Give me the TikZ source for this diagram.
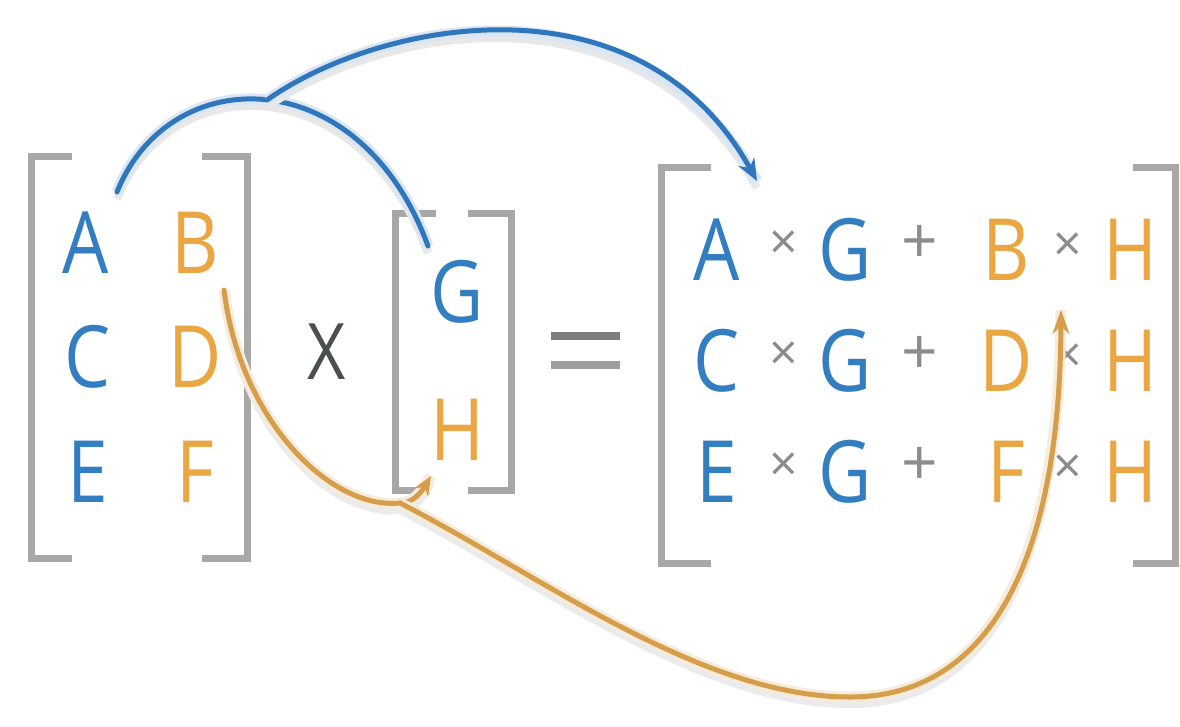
\documentclass[tikz,border=0pt]{standalone}
\usepackage{fontspec}
\setmainfont{Open Sans}
\usetikzlibrary{arrows.meta}
\definecolor{lblue}{RGB}{50,126,192}
\definecolor{lorange}{RGB}{234,166,66}
\definecolor{brkgray}{RGB}{168,168,168}
\definecolor{opgray}{RGB}{140,140,140}
\definecolor{xgray}{RGB}{74,80,80}
\definecolor{arcblue}{RGB}{48,118,188}
\definecolor{arcorange}{RGB}{214,158,74}
\newcommand\nx[1]{\scalebox{0.85}[1]{#1}}
\tikzset{
  brk/.style={draw=brkgray, line width=7pt, line cap=butt, line join=miter},
  bl/.style={text=lblue, inner sep=0pt, font=\fontsize{86}{90}\selectfont},
  orl/.style={text=lorange, inner sep=0pt, font=\fontsize{86}{90}\selectfont},
  smalltimes/.style={text=opgray, inner sep=0pt, font=\fontsize{50}{50}\selectfont},
  plussign/.style={text=opgray, inner sep=0pt, font=\fontsize{64}{64}\selectfont},
  blarc/.style={draw=arcblue, line width=5pt, line cap=round,
    preaction={draw=black!9, line width=8pt, arrows=-, transform canvas={yshift=-7pt}},
    preaction={draw=arcblue!18, line width=11pt, arrows=-}},
  orarc/.style={draw=arcorange, line width=5pt, line cap=round,
    preaction={draw=black!8, line width=8pt, arrows=-, transform canvas={yshift=-7pt}},
    preaction={draw=arcorange!20, line width=11pt, arrows=-}},
}
\begin{document}
\begin{tikzpicture}[x=1pt,y=-1pt]
\useasboundingbox (0,0) rectangle (1180,726);
\fill[white] (0,0) rectangle (1180,726);

% left matrix brackets
\draw[brk] (72,156) -- (31,156) -- (31,558) -- (72,558);
\draw[brk] (202,156) -- (247,156) -- (247,558) -- (202,558);
% left matrix entries
\node[bl]  (A) at (86,243)  {\nx{A}};
\node[orl] (B) at (195,243) {\nx{B}};
\node[bl]  (C) at (88,357)  {\nx{C}};
\node[orl] (D) at (195,357) {\nx{D}};
\node[bl]  (E) at (88,472)  {\nx{E}};
\node[orl] (F) at (195,472) {\nx{F}};

% multiplication sign
\node[text=xgray, inner sep=0pt, font=\fontsize{78}{80}\selectfont] (times) at (327,352) {\nx{X}};

% second matrix
\draw[brk] (436,213) -- (395,213) -- (395,490) -- (430,490);
\draw[brk] (468,213) -- (511,213) -- (511,490) -- (468,490);
\node[bl]  (G) at (457,292) {\nx{G}};
\node[orl] (H) at (457,430) {\nx{H}};

% equals sign
\fill[opgray!90!black] (551,332) rectangle (620,340);
\fill[opgray!85] (551,361) rectangle (620,369);
\coordinate (eq) at (585,350);

% result matrix
\draw[brk] (711,167) -- (661,167) -- (661,563) -- (711,563);
\draw[brk] (1133,167) -- (1175,167) -- (1175,563) -- (1133,563);

\foreach \r/\yy/\p/\q in {1/250/A/B, 2/361/C/D, 3/472/E/F}{
  \node[bl]         (r\r a) at (717,\yy)  {\nx{\p}};
  \node[smalltimes] (r\r x) at (784,\yy-5) {×};
  \node[bl]         (r\r g) at (845,\yy)  {\nx{G}};
  \node[plussign]   (r\r p) at (920,\yy-6) {+};
  \node[orl]        (r\r b) at (1006,\yy) {\nx{\q}};
  \node[smalltimes] (r\r y) at (1068,\yy-3) {×};
  \node[orl]        (r\r h) at (1130,\yy) {\nx{H}};
}

% blue connectors
\coordinate (As) at (117,192);
\coordinate (Gt) at (428,246);
\coordinate (J)  at (267,100);
\coordinate (Rt) at (757,181);
\draw[blarc] (As) .. controls (170,60) and (360,60) .. (Gt);
\draw[blarc, -{Stealth[length=22pt,width=18pt]}] (J) .. controls (380,20) and (640,-30) .. (Rt);

% orange connectors
\coordinate (Bs) at (224,290);
\coordinate (K)  at (400,503);
\coordinate (Ht) at (431,476);
\coordinate (L)  at (850,697);
\coordinate (R2) at (1061,310);
\draw[orarc, -{Stealth[length=19pt,width=16pt]}] (Bs) .. controls (240,420) and (330,510) .. (K) .. controls (414,503) and (422,491) .. (Ht);
\draw[orarc, -{Stealth[length=24pt,width=17pt]}] (K) .. controls (540,575) and (700,697) .. (L) .. controls (990,697) and (1060,560) .. (R2);
\end{tikzpicture}
\end{document}
